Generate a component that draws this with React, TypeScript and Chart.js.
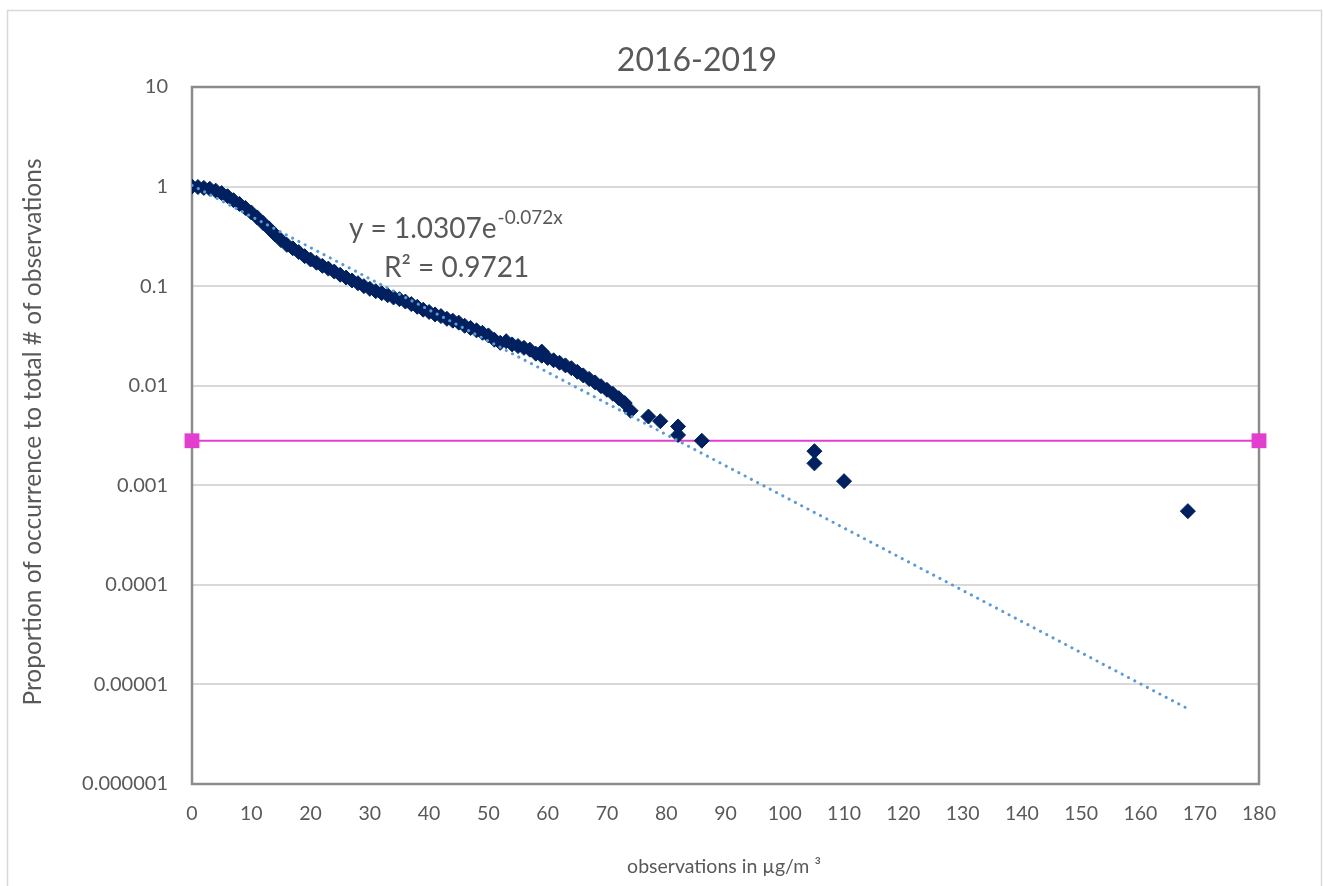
import React, { useEffect, useRef } from 'react';
import { Chart, registerables } from 'chart.js';

Chart.register(...registerables);

// Observations (µg/m³) and proportion of occurrence
const obsX = [
  0, 1, 2, 3, 4, 5, 6, 7, 8, 9,
  10, 11, 12, 13, 14, 15, 16, 17, 18, 19,
  20, 21, 22, 23, 24, 25, 26, 27, 28, 29,
  30, 31, 32, 33, 34, 35, 36, 37, 38, 39,
  40, 41, 42, 43, 44, 45, 46, 47, 48, 49,
  50, 51, 52, 53, 54, 55, 56, 57, 58, 59,
  59, 60, 61, 62, 63, 64, 65, 66, 67, 68,
  69, 70, 71, 72, 73, 74, 77, 79, 82, 82,
  86, 105, 105, 110, 168,
];
const obsY = [
  1.0, 0.99, 0.97, 0.95, 0.91, 0.86, 0.8, 0.73, 0.67, 0.61,
  0.55, 0.49, 0.43, 0.38, 0.33, 0.29, 0.26, 0.24, 0.22, 0.2,
  0.185, 0.172, 0.16, 0.15, 0.14, 0.13, 0.122, 0.114, 0.107, 0.1,
  0.094, 0.089, 0.085, 0.081, 0.077, 0.074, 0.07, 0.066, 0.062, 0.058,
  0.055, 0.052, 0.05, 0.047, 0.045, 0.043, 0.04, 0.038, 0.036, 0.034,
  0.032, 0.029, 0.027, 0.028, 0.026, 0.025, 0.024, 0.023, 0.021, 0.022,
  0.02, 0.019, 0.018, 0.017, 0.016, 0.015, 0.0138, 0.0127, 0.0117, 0.0108,
  0.0099, 0.0091, 0.0083, 0.0075, 0.0067, 0.0056, 0.0049, 0.0044, 0.0039, 0.0032,
  0.0028, 0.0022, 0.00166, 0.0011, 0.00055,
];

// Exponential trendline y = 1.0307e^(-0.072x), endpoints
const trendX = [0, 168];
const trendY = [1.0307, 0.0000057];

// Horizontal reference line
const limitX = [0, 180];
const limitY = [0.0028, 0.0028];

const yTickValues = [0.000001, 0.00001, 0.0001, 0.001, 0.01, 0.1, 1, 10];
const yTickLabels = ['0.000001', '0.00001', '0.0001', '0.001', '0.01', '0.1', '1', '10'];

const titleText = '2016-2019';
const xTitle = 'observations in µg/m ³';
const yTitle = 'Proportion of occurrence to total # of observations';
const eqMain = 'y = 1.0307e';
const eqSup = '-0.072x';
const eqR2 = 'R² = 0.9721';

const FONT = 'Lato, "Open Sans", sans-serif';
const GRAY = '#595959';

const decorPlugin = {
  id: 'decor',
  beforeDraw(chart: any) {
    const ctx = chart.ctx;
    ctx.save();
    ctx.fillStyle = '#ffffff';
    ctx.fillRect(0, 0, chart.width, chart.height);
    ctx.strokeStyle = '#d9d9d9';
    ctx.lineWidth = 1.5;
    ctx.strokeRect(7.5, 10.5, chart.width - 9, chart.height + 20);
    ctx.restore();
  },
  beforeDatasetsDraw(chart: any) {
    const { ctx, chartArea } = chart;
    ctx.save();
    ctx.strokeStyle = '#8c8c8c';
    ctx.lineWidth = 2.5;
    ctx.strokeRect(chartArea.left, chartArea.top, chartArea.right - chartArea.left, chartArea.bottom - chartArea.top);
    ctx.restore();
  },
  afterDraw(chart: any) {
    const { ctx, chartArea } = chart;
    ctx.save();
    ctx.fillStyle = GRAY;
    ctx.textBaseline = 'middle';
    // Title
    ctx.font = `32px ${FONT}`;
    ctx.textAlign = 'center';
    ctx.fillText(titleText, 697, 61);
    // X axis title
    ctx.font = `19.5px ${FONT}`;
    ctx.fillText(xTitle, 724, 867);
    // Y axis title
    ctx.save();
    ctx.translate(33, 432);
    ctx.rotate(-Math.PI / 2);
    ctx.font = `24.5px ${FONT}`;
    ctx.fillText(yTitle, 0, 0);
    ctx.restore();
    // Equation
    ctx.textAlign = 'left';
    ctx.font = `28px ${FONT}`;
    ctx.fillText(eqMain, 349, 229);
    const w = ctx.measureText(eqMain).width;
    ctx.font = `19px ${FONT}`;
    ctx.fillText(eqSup, 349 + w + 1, 218);
    ctx.font = `28px ${FONT}`;
    ctx.fillText(eqR2, 384, 268);
    ctx.restore();
  },
};

export default function App() {
  const canvasRef = useRef<HTMLCanvasElement | null>(null);

  useEffect(() => {
    document.body.style.margin = '0';
    const canvas = canvasRef.current;
    if (!canvas) return;
    const toPts = (xs: number[], ys: number[]) => xs.map((x, i) => ({ x, y: ys[i] }));

    const chart = new Chart(canvas, {
      type: 'scatter',
      data: {
        datasets: [
          {
            type: 'line',
            label: 'Expon. trend',
            data: toPts(trendX, trendY),
            borderColor: '#5b9bd5',
            borderWidth: 3,
            borderDash: [0.1, 7],
            borderCapStyle: 'round',
            pointRadius: 0,
            fill: false,
            order: 0,
          } as any,
          {
            label: 'Observations',
            data: toPts(obsX, obsY),
            pointStyle: 'rectRot',
            pointRadius: 7.5,
            pointBackgroundColor: '#002060',
            pointBorderColor: '#002060',
            pointBorderWidth: 1,
            order: 1,
          } as any,
          {
            type: 'line',
            label: 'Limit',
            data: toPts(limitX, limitY),
            borderColor: '#e23fd0',
            borderWidth: 2,
            pointStyle: 'rect',
            pointRadius: 10.5,
            pointBackgroundColor: '#e23fd0',
            pointBorderColor: '#e23fd0',
            pointBorderWidth: 0,
            fill: false,
            clip: false,
            order: 2,
          } as any,
        ],
      },
      options: {
        responsive: false,
        animation: false,
        events: [],
        layout: { padding: { left: 7, top: 87, right: 64, bottom: 0 } },
        plugins: {
          legend: { display: false },
          title: { display: false },
          tooltip: { enabled: false },
        },
        scales: {
          x: {
            type: 'linear',
            min: 0,
            max: 180,
            ticks: {
              stepSize: 10,
              color: GRAY,
              font: { family: FONT, size: 19.5 },
              padding: 18,
              maxRotation: 0,
            },
            grid: { display: false, drawTicks: false },
            border: { display: false },
            afterFit: (scale: any) => {
              scale.height = 102;
            },
          },
          y: {
            type: 'logarithmic',
            min: 0.000001,
            max: 10,
            afterBuildTicks: (scale: any) => {
              scale.ticks = yTickValues.map((v) => ({ value: v }));
            },
            ticks: {
              color: GRAY,
              font: { family: FONT, size: 20 },
              padding: 24,
              callback: (value: any) => {
                const i = yTickValues.findIndex((v) => Math.abs(v - value) / v < 1e-6);
                return i >= 0 ? yTickLabels[i] : '';
              },
            },
            grid: { color: '#d9d9d9', lineWidth: 2, drawTicks: false },
            border: { display: false },
            afterFit: (scale: any) => {
              scale.width = 185;
            },
          },
        },
      } as any,
      plugins: [decorPlugin],
    });

    return () => {
      chart.destroy();
    };
  }, []);

  return (
    <div style={{ width: 1323, height: 886 }}>
      <canvas ref={canvasRef} width={1323} height={886} style={{ display: 'block' }} />
    </div>
  );
}
